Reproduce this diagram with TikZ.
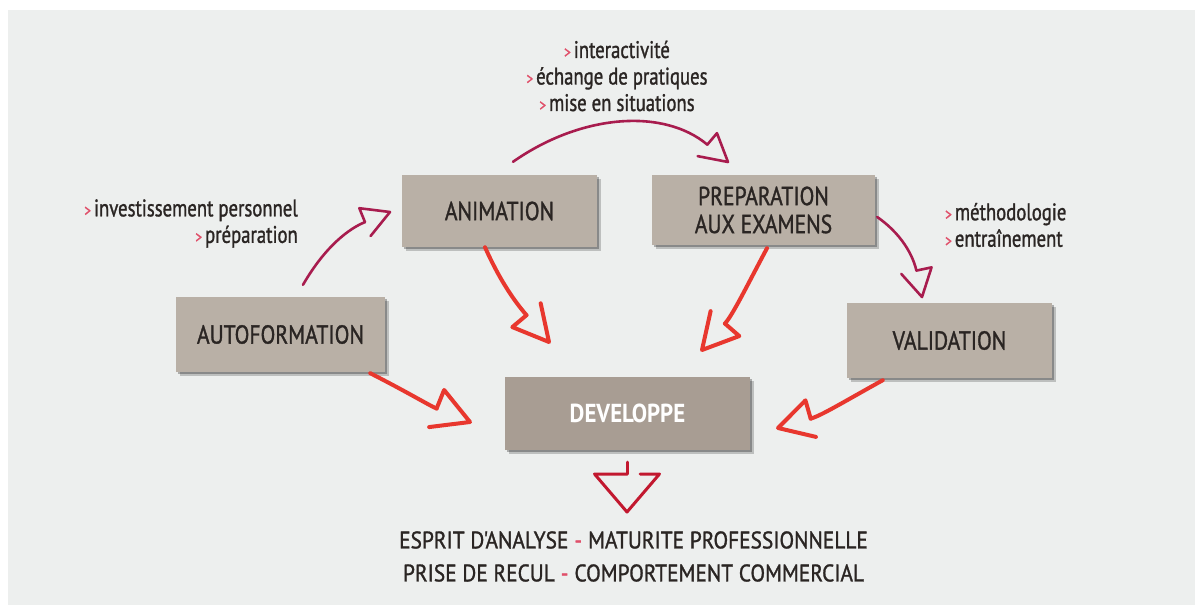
\documentclass[tikz,border=0pt]{standalone}
\usepackage{fontspec}
\setmainfont{PT Sans}[FakeStretch=0.82]
\newfontfamily\fboxf{PT Sans}[FakeStretch=0.83,FakeBold=1.2]
\newfontfamily\fdevf{PT Sans}[FakeStretch=0.88]
\newfontfamily\fnotef{PT Sans}[FakeStretch=0.78,FakeBold=1.2]
\newfontfamily\fresf{PT Sans}[FakeStretch=0.89,FakeBold=1.2]
\usetikzlibrary{arrows.meta,shadows,calc}
\definecolor{bg}{HTML}{EDEFEE}
\definecolor{boxc}{HTML}{B9B0A6}
\definecolor{devc}{HTML}{A89D93}
\definecolor{txt}{HTML}{2A2523}
\definecolor{redc}{HTML}{E8372E}
\definecolor{magc}{HTML}{A81C4E}
\definecolor{crim}{HTML}{C2182F}
\definecolor{gtc}{HTML}{E0506A}
\newcommand\mkgt{{\color{gtc}\fontsize{17}{17}\selectfont>}\hspace{3pt}}
\newcommand\mkdash{\hspace{6pt}{\color{gtc}-}\hspace{6pt}}
\pgfdeclarearrow{
  name=HeadA,
  parameters={\the\pgfarrowlength,\the\pgfarrowwidth,\the\pgfarrowlinewidth},
  setup code={
    \pgfarrowssettipend{0pt}
    \pgfarrowssetlineend{-\pgfarrowlength}
    \pgfarrowssetbackend{-\pgfarrowlength}
    \pgfarrowssavethe\pgfarrowlength
    \pgfarrowssavethe\pgfarrowwidth
  },
  drawing code={
    \pgfsetroundjoin\pgfsetroundcap
    \pgfpathmoveto{\pgfqpoint{-\pgfarrowlength}{0pt}}
    \pgfpathlineto{\pgfqpoint{-\pgfarrowlength}{.5\pgfarrowwidth}}
    \pgfpathlineto{\pgfpointorigin}
    \pgfpathlineto{\pgfqpoint{-\pgfarrowlength}{-.5\pgfarrowwidth}}
    \pgfusepathqstroke
  },
  defaults={length=30pt,width=34pt}
}
\pgfdeclarearrow{
  name=HeadB,
  parameters={\the\pgfarrowlength,\the\pgfarrowwidth,\the\pgfarrowlinewidth},
  setup code={
    \pgfarrowssettipend{0pt}
    \pgfarrowssetlineend{-\pgfarrowlength}
    \pgfarrowssetbackend{-\pgfarrowlength}
    \pgfarrowssavethe\pgfarrowlength
    \pgfarrowssavethe\pgfarrowwidth
  },
  drawing code={
    \pgfsetroundjoin\pgfsetroundcap
    \pgfpathmoveto{\pgfqpoint{-\pgfarrowlength}{0pt}}
    \pgfpathlineto{\pgfqpoint{-\pgfarrowlength}{-.5\pgfarrowwidth}}
    \pgfpathlineto{\pgfpointorigin}
    \pgfpathlineto{\pgfqpoint{-\pgfarrowlength}{.5\pgfarrowwidth}}
    \pgfusepathqstroke
  },
  defaults={length=30pt,width=34pt}
}
\pgfdeclarearrow{
  name=HeadC,
  parameters={\the\pgfarrowlength,\the\pgfarrowwidth,\the\pgfarrowlinewidth},
  setup code={
    \pgfarrowssettipend{0pt}
    \pgfarrowssetlineend{-\pgfarrowlength}
    \pgfarrowssetbackend{-\pgfarrowlength}
    \pgfarrowssavethe\pgfarrowlength
    \pgfarrowssavethe\pgfarrowwidth
  },
  drawing code={
    \pgfsetroundjoin\pgfsetroundcap
    \pgfpathmoveto{\pgfqpoint{-\pgfarrowlength}{0pt}}
    \pgfpathlineto{\pgfqpoint{-\pgfarrowlength}{-.5\pgfarrowwidth}}
    \pgfpathlineto{\pgfpointorigin}
    \pgfpathlineto{\pgfqpoint{-\pgfarrowlength}{.5\pgfarrowwidth}}
    \pgfpathlineto{\pgfqpoint{-\pgfarrowlength}{.2\pgfarrowwidth}}
    \pgfusepathqstroke
  },
  defaults={length=38pt,width=65pt}
}
\begin{document}
\begin{tikzpicture}[x=1pt,y=1pt,
  shad/.style={drop shadow={shadow xshift=4pt,shadow yshift=-4pt,opacity=.2,fill=black},
               drop shadow={shadow xshift=2pt,shadow yshift=-2pt,opacity=.28,fill=black}},
  box/.style={shad,fill=boxc,inner sep=0pt,text=txt,align=center,
              font=\fboxf\fontsize{26}{28}\selectfont},
  note/.style={inner sep=0pt,text=txt,font=\fnotef\fontsize{24}{26.5}\selectfont},
  redarr/.style={draw=redc,line width=4pt,line cap=round},
  magarr/.style={draw=magc,line width=2.6pt,line cap=round},
  crimarr/.style={draw=crim,line width=3pt,line cap=round}]
\fill[white] (0,0) rectangle (1195,-605);
\fill[bg] (8,-10) rectangle (1195,-605);
\useasboundingbox (0,0) rectangle (1195,-605);

% boxes
\node[box,minimum width=209pt,minimum height=75pt] (auto) at (280.5,-334.5) {AUTOFORMATION};
\node[box,minimum width=195pt,minimum height=72pt] (anim) at (499.5,-211) {ANIMATION};
\node[box,minimum width=223pt,minimum height=70pt] (prep) at (763.5,-210) {PREPARATION\\AUX EXAMENS};
\node[box,minimum width=205pt,minimum height=75pt] (valid) at (949.5,-340.5) {VALIDATION};
\node[box,fill=devc,text=white,font=\fdevf\bfseries\fontsize{26}{28}\selectfont,minimum width=245pt,minimum height=73pt] (dev) at (627.5,-413.5) {DEVELOPPE};

% notes
\node[note,align=center] (topnote) at (617,-76) {\mkgt interactivité\\\mkgt échange de pratiques\\\mkgt mise en situations};
\node[note,align=right,anchor=east] (leftnote) at (298,-223.5) {\mkgt investissement personnel\\\mkgt préparation};
\node[note,align=left,anchor=west] (rightnote) at (945,-225) {\mkgt méthodologie\\\mkgt entraînement};
\node[note,align=center,font=\fresf\fontsize{24}{33}\selectfont] (result) at (633.5,-556.5)
  {ESPRIT D'ANALYSE\mkdash MATURITE PROFESSIONNELLE\\PRISE DE RECUL\mkdash COMPORTEMENT COMMERCIAL};

% arrow end points
\coordinate (t1) at (470,-422);
\coordinate (t2) at (549,-342);
\coordinate (t3) at (702,-350);
\coordinate (t4) at (778,-428);
\coordinate (ta) at (390,-212);
\coordinate (tb) at (728,-162);
\coordinate (tc) at (922,-297);
\coordinate (td) at (627,-512);

% red arrows towards DEVELOPPE
\draw[redarr,-{HeadA[length=36pt,width=40pt]}] ($(auto.south east)+(-15,-1)$) to[out=-27,in=158] (t1);
\draw[redarr,-{HeadB[length=35pt,width=37pt]}] ($(anim.south)+(-14.5,0)$) to[out=-66,in=130] (t2);
\draw[redarr,-{HeadA[length=35pt,width=38pt]}] ($(prep.south)+(3.5,-3)$) to[out=242,in=49] (t3);
\draw[redarr,-{HeadB[length=34pt,width=38pt]}] ($(valid.south west)+(36,-2)$) to[out=209,in=16] (t4);

% cycle arrows
\draw[magarr,-{HeadA[length=27pt,width=30pt]}] ($(auto.north)+(22.5,12)$) to[out=60,in=202] (ta);
\draw[magarr,-{HeadA[length=27pt,width=30pt]}] ($(anim.north)+(13.5,13)$) to[out=35,in=140] (tb);
\draw[magarr,-{HeadA[length=27pt,width=31pt]}] ($(prep.east)+(2,-7)$) to[out=-35,in=102] (tc);

% result arrow
\draw[crimarr,-{HeadC[length=38pt,width=65pt]}] ($(dev.south)+(-0.5,-12)$) -- (td);
\end{tikzpicture}
\end{document}
